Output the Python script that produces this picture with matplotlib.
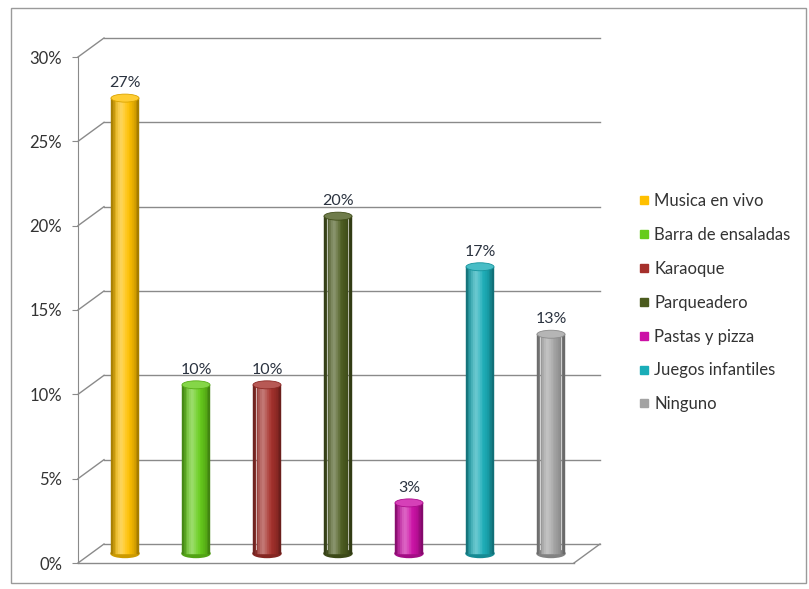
import matplotlib.pyplot as plt
import matplotlib.colors as mcolors
from matplotlib.patches import Ellipse, Rectangle
from matplotlib.lines import Line2D
import numpy as np

categories = ['Musica en vivo', 'Barra de ensaladas', 'Karaoque', 'Parqueadero',
              'Pastas y pizza', 'Juegos infantiles', 'Ninguno']
values = [27, 10, 10, 20, 3, 17, 13]
colors = ['#FFC000', '#66CC1A', '#A5302B', '#4B5B1E', '#CC10A6', '#1AADB8', '#A3A3A3']
yticks = [0, 5, 10, 15, 20, 25, 30]

plt.rcParams['font.family'] = ['Lato', 'DejaVu Sans']

W, H = 809, 589
fig = plt.figure(figsize=(W / 100, H / 100), dpi=100)
ax = fig.add_axes([78 / W, 26 / H, 496 / W, 506 / H])

slot = 71.0                      # pixels per category
x_l = -34 / slot
x_r = x_l + 496 / slot
ax.set_xlim(x_l, x_r)
ax.set_ylim(0, 30)
pxu = 506 / 30                   # pixels per percent

# depth offsets (data units) for the back wall and the bar plane
dxb, dyb = 26 / slot, 19 / pxu
dxm, dym = 13 / slot, 9.5 / pxu
grid = '#8a8a8a'

# back wall gridlines + side wall diagonals
for t in yticks:
    ax.plot([x_l + dxb, x_r + dxb], [t + dyb, t + dyb], color=grid, lw=1, clip_on=False, zorder=1)
    ax.plot([x_l, x_l + dxb], [t, t + dyb], color=grid, lw=1, clip_on=False, zorder=1)
# floor
ax.plot([x_l, x_r], [0, 0], color=grid, lw=1, clip_on=False, zorder=1)
ax.plot([x_r, x_r + dxb], [0, dyb], color=grid, lw=1, clip_on=False, zorder=1)

# cylinders
bw = 28 / slot
eh = 8 / pxu
n = 16
u = np.linspace(-1, 1, n)
light = 0.35 * np.exp(-((u + 0.3) / 0.4) ** 2)
dark = 0.35 * np.abs(u) ** 2.5
for i, (v, c) in enumerate(zip(values, colors)):
    base = np.array(mcolors.to_rgb(c))
    cols = base[None, :] * (1 - dark[:, None])
    cols = cols + (1 - cols) * light[:, None]
    cx = i + dxm
    xs = cx - bw / 2 + (np.arange(n) + 0.5) * bw / n
    ax.add_patch(Ellipse((cx, dym), bw, eh, color=base * 0.8, zorder=2))
    ax.bar(xs, v, width=bw / n, bottom=dym, color=cols, edgecolor=cols, linewidth=0.3, zorder=3)
    top = np.clip(base + (1 - base) * 0.2, 0, 1)
    ax.add_patch(Ellipse((cx, v + dym), bw, eh, color=top, ec=base * 0.85, lw=0.6, zorder=4))
    ax.annotate(f'{v}%', xy=(cx, v + dym + eh / 2), xytext=(0, 3), textcoords='offset points',
                ha='center', va='bottom', fontsize=11.5, color='#2b3340')

# front value axis
for s in ['top', 'right', 'bottom']:
    ax.spines[s].set_visible(False)
ax.spines['left'].set_color(grid)
ax.set_xticks([])
ax.set_yticks(yticks)
ax.set_yticklabels([f'{t}%' for t in yticks])
ax.tick_params(axis='y', length=4.5, pad=7, color=grid, labelsize=12, labelcolor='#333333')
ax.patch.set_alpha(0)

handles = [Line2D([], [], marker='s', linestyle='none', markersize=6, color=c) for c in colors]
fig.legend(handles, categories, loc='upper left', bbox_to_anchor=(631 / W, 1 - 185 / H),
           frameon=False, borderpad=0, handlelength=0.6, handletextpad=0.3,
           labelspacing=1.07, fontsize=12, labelcolor='#333333')

fig.add_artist(Rectangle((11 / W, 1 - 583 / H), 795 / W, 575 / H, transform=fig.transFigure,
                         fill=False, ec='#9a9a9a', lw=1))

fig.savefig('out.png', dpi=100)
